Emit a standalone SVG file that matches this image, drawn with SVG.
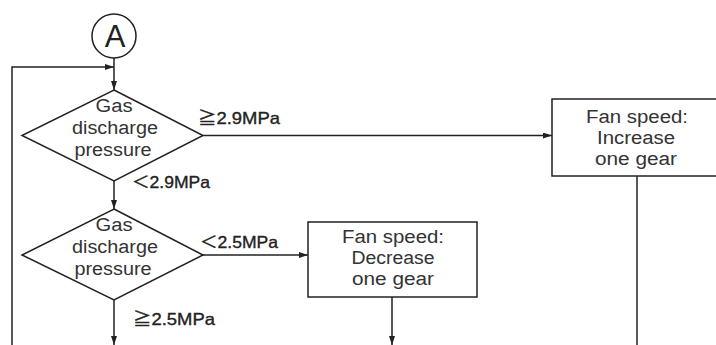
<svg xmlns="http://www.w3.org/2000/svg" width="716" height="345" viewBox="0 0 716 345">
  <defs>
    <marker id="arr" markerUnits="userSpaceOnUse" markerWidth="9" markerHeight="6" refX="9" refY="3" orient="auto">
      <path d="M0,0 L9,3 L0,6 z" fill="#222"/>
    </marker>
  </defs>
  <style>
    .shape { fill: #fff; stroke: #222; stroke-width: 1.5; }
    .line { fill: none; stroke: #222; stroke-width: 1.5; }
    .t { font-family: "Liberation Sans", Arial, "DejaVu Sans", sans-serif; font-size: 18px; fill: #333; text-anchor: middle; }
    .lbl { font-family: "Liberation Sans", Arial, "Noto Sans CJK JP", "DejaVu Sans", sans-serif; font-size: 16.5px; fill: #222; stroke: #222; stroke-width: 0.35; }
    .big { font-family: "Liberation Sans", Arial, sans-serif; font-size: 31px; fill: #222; text-anchor: middle; }
  </style>
  <rect width="716" height="345" fill="#fff"/>

  <g id="connectors">
    <line class="line" x1="114" y1="58" x2="114" y2="90" marker-end="url(#arr)"/>
    <polyline class="line" points="12,345 12,67 114,67" marker-end="url(#arr)"/>
    <line class="line" x1="203" y1="135.5" x2="552" y2="135.5" marker-end="url(#arr)"/>
    <line class="line" x1="114" y1="181" x2="114" y2="209" marker-end="url(#arr)"/>
    <line class="line" x1="203" y1="255" x2="308" y2="255" marker-end="url(#arr)"/>
    <line class="line" x1="114" y1="300" x2="114" y2="345" marker-end="url(#arr)"/>
    <line class="line" x1="392" y1="297" x2="392" y2="345" marker-end="url(#arr)"/>
    <line class="line" x1="637" y1="176" x2="637" y2="345"/>
    <text class="lbl" x="198" y="124" textLength="82" lengthAdjust="spacingAndGlyphs">≧2.9MPa</text>
    <text class="lbl" x="132" y="188" textLength="78" lengthAdjust="spacingAndGlyphs">＜2.9MPa</text>
    <text class="lbl" x="200" y="248" textLength="78" lengthAdjust="spacingAndGlyphs">＜2.5MPa</text>
    <text class="lbl" x="133" y="325" textLength="82" lengthAdjust="spacingAndGlyphs">≧2.5MPa</text>
  </g>

  <g id="connector-A">
    <circle class="shape" cx="114" cy="36" r="22"/>
    <text class="big" x="115" y="47">A</text>
  </g>

  <g id="decision-1">
    <polygon class="shape" points="114,90 203,135.5 114,181 22,135.5"/>
    <text class="t" x="114" y="112" textLength="37" lengthAdjust="spacingAndGlyphs">Gas</text>
    <text class="t" x="115" y="134" textLength="86" lengthAdjust="spacingAndGlyphs">discharge</text>
    <text class="t" x="113" y="156" textLength="77" lengthAdjust="spacingAndGlyphs">pressure</text>
  </g>

  <g id="decision-2">
    <polygon class="shape" points="114,209 203,255 114,300 22,255"/>
    <text class="t" x="114" y="231" textLength="37" lengthAdjust="spacingAndGlyphs">Gas</text>
    <text class="t" x="115" y="253" textLength="86" lengthAdjust="spacingAndGlyphs">discharge</text>
    <text class="t" x="113" y="275" textLength="77" lengthAdjust="spacingAndGlyphs">pressure</text>
  </g>

  <g id="increase-box">
    <rect class="shape" x="552" y="99" width="172" height="77"/>
    <text class="t" x="637" y="123" textLength="102" lengthAdjust="spacingAndGlyphs">Fan speed:</text>
    <text class="t" x="636" y="144" textLength="78" lengthAdjust="spacingAndGlyphs">Increase</text>
    <text class="t" x="636" y="165" textLength="82" lengthAdjust="spacingAndGlyphs">one gear</text>
  </g>

  <g id="decrease-box">
    <rect class="shape" x="308" y="222" width="169" height="75"/>
    <text class="t" x="393" y="243" textLength="102" lengthAdjust="spacingAndGlyphs">Fan speed:</text>
    <text class="t" x="393" y="264" textLength="83" lengthAdjust="spacingAndGlyphs">Decrease</text>
    <text class="t" x="393" y="285" textLength="82" lengthAdjust="spacingAndGlyphs">one gear</text>
  </g>
</svg>
